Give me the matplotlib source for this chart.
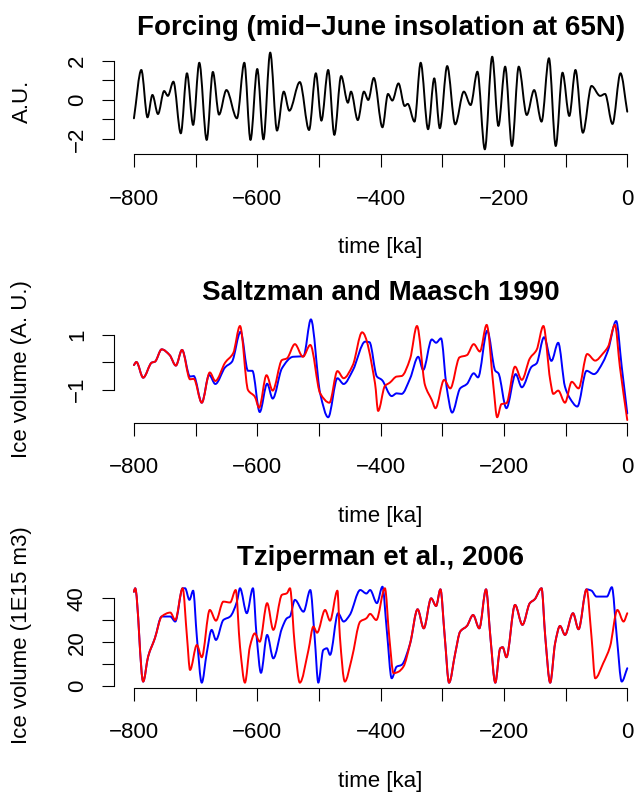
import matplotlib
matplotlib.use("Agg")
import matplotlib.pyplot as plt
import numpy as np
from matplotlib.path import Path
from matplotlib.patches import PathPatch

plt.rcParams['font.family'] = ['Liberation Sans', 'DejaVu Sans']

# ---------------- data ----------------
forcing_t = [-800, -788, -778, -770, -761, -751, -745, -736, -724, -714, -704, -694, -682, -672,
             -662, -650, -633, -621, -611, -600, -590, -579, -568, -557, -548, -531, -516, -505,
             -496, -485, -475, -464, -453, -448, -437, -427, -420, -411, -397, -388, -381, -371,
             -361, -356, -345, -335, -323, -313, -304, -292, -279, -265, -254, -243, -231, -219,
             -209, -198, -187, -176, -163, -151, -139, -127, -116, -105, -94, -84, -72, -58,
             -44, -36, -24, -11, 0]
forcing_v = [-0.94, 1.54, -0.89, 0.26, -0.72, 0.46, 0.21, 0.94, -1.71, 1.37, -1.28, 1.91, -2.05, 1.44,
             -0.75, 0.51, -0.94, 1.91, -2.05, 1.59, -2.02, 2.43, -1.57, 0.43, -0.55, 0.92, -1.54, 1.37,
             -1.06, 1.54, -1.79, 1.23, -0.14, 0.43, -1.03, 0.43, 0.0, 1.13, -1.40, 0.31, -0.03, 0.85,
             -0.31, -0.20, -1.11, 1.91, -1.50, 1.11, -1.45, 1.74, -1.25, 0.43, -0.26, 1.45, -2.53, 2.22,
             -1.33, 1.71, -2.36, 1.71, -0.77, 0.51, -1.11, 2.14, -2.36, 1.40, -0.82, 1.54, -1.68, 0.72,
             0.21, 0.31, -1.23, 1.37, -0.60]

sm_blue_t = [-800, -796, -785, -771, -766, -755, -742, -732, -722, -709, -703, -690, -678, -668,
             -652, -641, -627, -615, -608, -596, -584, -575, -560, -542, -525, -513, -498, -485,
             -470, -460, -445, -425, -418, -406, -398, -382, -374, -366, -352, -339, -331, -317,
             -310, -302, -293, -284, -271, -260, -249, -242, -227, -214, -209, -196, -181, -171,
             -155, -147, -135, -123, -112, -101, -93, -81, -66, -54, -39, -31, -18, -9, 0]
sm_blue_v = [-0.11, 0.00, -0.57, -0.02, 0.01, 0.46, 0.25, -0.13, 0.44, -0.53, -0.51, -1.48, -0.47, -0.80,
             -0.19, 0.01, 1.10, -0.32, -0.32, -1.82, -0.79, -1.33, -0.23, 0.19, 0.21, 1.55, -1.14, -2.01,
             -0.59, -0.80, -0.30, 0.74, 0.72, -0.53, -0.65, -1.24, -1.14, -1.16, -0.59, 0.19, -0.29, 0.82,
             0.70, 0.86, -0.90, -1.84, -0.96, -0.80, -0.41, -0.56, 1.14, -0.32, -0.41, -1.68, -0.44, -0.92,
             -0.17, -0.05, 0.90, 0.04, 0.70, -0.90, -1.32, -1.62, -0.32, -0.44, 0.01, 0.44, 1.49, -0.17, -1.87]

sm_red_t = [-800, -796, -785, -771, -766, -755, -742, -732, -722, -709, -703, -690, -677, -668,
            -652, -639, -628, -615, -604, -597, -585, -575, -560, -552, -539, -526, -514, -498,
            -483, -470, -460, -445, -430, -409, -404, -393, -385, -374, -366, -352, -341, -328,
            -317, -311, -297, -287, -272, -260, -249, -239, -228, -217, -211, -204, -196, -182,
            -171, -158, -147, -136, -125, -120, -112, -101, -90, -79, -65, -52, -39, -31, -20, -12, 0]
sm_red_v = [-0.11, 0.00, -0.57, -0.02, 0.01, 0.46, 0.25, -0.13, 0.44, -0.63, -0.61, -1.48, -0.38, -0.69,
            -0.02, 0.32, 1.31, -1.02, -1.26, -1.66, -0.48, -1.04, 0.07, 0.13, 0.65, 0.19, 0.62, -1.14,
            -1.48, -0.33, -0.59, -0.11, 1.08, -0.78, -1.78, -0.87, -0.75, -0.53, -0.51, 0.13, 1.31, -0.84,
            -1.38, -1.68, -0.65, -0.96, 0.17, 0.25, 0.65, 0.38, 1.35, -0.90, -2.01, -1.53, -1.50, -0.17,
            -0.65, 0.13, 0.44, 1.31, -0.65, -1.16, -1.04, -1.48, -0.72, -0.96, 0.29, 0.05, 0.32, 0.56, 1.35, -0.17, -2.11]

tz_blue_t = [-800, -798, -785, -777, -766, -755, -741, -733, -721, -717, -710, -704, -698, -690,
             -682, -674, -667, -655, -644, -633, -628, -617, -607, -601, -594, -584, -574, -560,
             -552, -547, -539, -525, -514, -507, -501, -493, -487, -482, -469, -460, -450, -433,
             -423, -417, -406, -397, -390, -382, -374, -366, -352, -340, -330, -318, -310, -303,
             -296, -289, -279, -271, -260, -250, -240, -229, -222, -214, -206, -202, -196, -182,
             -170, -158, -150, -139, -133, -125, -117, -109, -101, -88, -79, -66, -58, -50,
             -33, -25, -17, -9, 0]
tz_blue_v = [43.0, 44.6, 2.0, 13.4, 21.8, 31.7, 31.7, 29.4, 44.6, 44.6, 39.3, 43.5, 22.5, 1.5,
             14.9, 25.6, 21.0, 30.1, 31.7, 38.5, 44.6, 33.2, 44.6, 22.5, 6.0, 23.3, 12.6, 26.3,
             30.9, 31.7, 39.3, 33.9, 43.8, 22.5, 1.5, 16.4, 17.2, 14.2, 33.2, 29.4, 32.4, 43.8,
             42.2, 43.8, 37.8, 45.3, 25.6, 3.5, 8.8, 9.6, 19.5, 35.0, 26.3, 40.0, 36.5, 44.1,
             22.5, 1.5, 14.9, 24.8, 27.4, 32.4, 26.3, 44.1, 22.5, 1.5, 17.2, 17.7, 13.1, 37.0,
             27.9, 37.8, 39.6, 44.6, 22.5, 1.5, 19.5, 27.4, 23.3, 33.2, 25.9, 44.1, 43.5, 40.8,
             40.8, 45.1, 22.5, 2.0, 8.1]

tz_red_t = [-800, -798, -785, -777, -766, -755, -741, -733, -721, -714, -709, -698, -690, -677,
            -667, -655, -644, -635, -628, -620, -612, -604, -596, -584, -574, -560, -552, -547,
            -539, -531, -517, -509, -503, -490, -482, -470, -466, -458, -447, -433, -423, -417,
            -407, -393, -386, -379, -371, -363, -352, -340, -330, -318, -310, -303, -296, -289,
            -279, -271, -260, -250, -240, -229, -222, -214, -206, -202, -196, -182, -170, -158,
            -150, -139, -133, -125, -117, -109, -101, -88, -79, -66, -58, -52, -39, -28, -16, -6, 0]
tz_red_v = [43.0, 44.6, 2.0, 13.4, 21.8, 31.7, 33.5, 30.1, 44.6, 22.5, 7.3, 18.7, 13.1, 34.7,
            29.8, 38.5, 38.1, 43.8, 17.9, 1.5, 17.9, 24.0, 20.2, 37.8, 25.6, 41.6, 42.3, 44.6,
            17.9, 1.5, 16.4, 27.1, 24.3, 34.7, 29.8, 43.5, 22.5, 2.0, 12.2, 29.4, 30.9, 32.9,
            30.1, 44.6, 22.5, 5.8, 6.5, 8.8, 19.5, 35.0, 26.3, 40.0, 36.5, 44.1, 22.5, 1.5,
            14.9, 24.8, 27.4, 32.4, 26.3, 44.1, 22.5, 1.5, 17.2, 17.7, 13.1, 37.0, 27.9, 37.8,
            39.6, 44.6, 22.5, 1.5, 19.5, 27.4, 23.3, 33.2, 25.9, 44.1, 22.5, 3.5, 10.4, 17.9, 34.7, 29.4, 33.2]

x_ticks = [-800, -700, -600, -500, -400, -300, -200, -100, 0]
x_labels = ['\u2212800', '', '\u2212600', '', '\u2212400', '', '\u2212200', '', '0']

titles = ['Forcing (mid\u2212June insolation at 65N)', 'Saltzman and Maasch 1990', 'Tziperman et al., 2006']
ylabels = ['A.U.', 'Ice volume (A. U.)', 'Ice volume (1E15 m3)']
xlabel = 'time [ka]'

# ---------------- layout ----------------
W, H = 635, 795
fig = plt.figure(figsize=(W / 100, H / 100), dpi=100)

def ax_px(left, top, right, bottom):
    return fig.add_axes([left / W, 1 - bottom / H, (right - left) / W, (bottom - top) / H])

def smooth_line(ax, t, v, color, lw):
    """Draw the read points joined by a smooth (monotone Hermite/Bezier) path."""
    x = np.asarray(t, float)
    y = np.asarray(v, float)
    h = np.diff(x)
    d = np.diff(y) / h
    n = len(x)
    m = np.zeros(n)
    for k in range(1, n - 1):
        if d[k - 1] * d[k] > 0:
            w1 = 2 * h[k] + h[k - 1]
            w2 = h[k] + 2 * h[k - 1]
            m[k] = (w1 + w2) / (w1 / d[k - 1] + w2 / d[k])
    m[0] = d[0]
    m[-1] = d[-1]
    verts = [(x[0], y[0])]
    codes = [Path.MOVETO]
    for k in range(n - 1):
        verts += [(x[k] + h[k] / 3, y[k] + m[k] * h[k] / 3),
                  (x[k + 1] - h[k] / 3, y[k + 1] - m[k + 1] * h[k] / 3),
                  (x[k + 1], y[k + 1])]
        codes += [Path.CURVE4] * 3
    ax.add_patch(PathPatch(Path(verts, codes), fill=False, edgecolor=color, lw=lw,
                           capstyle='round', joinstyle='round'))

XL, XR = 114.2, 647.0
XLIM = (-832, 32)
AX_FS = 16
TITLE_FS = 20

panels = [
    dict(top=48.7, bottom=153.8, ylim=(-2.76, 2.63), yt=[-2, -1, 0, 1, 2],
         yl=['\u22122', '', '0', '', '2'], yb=(-2, 2)),
    dict(top=315.25, bottom=422.5, ylim=(-2.2, 1.7), yt=[-1, 0, 1],
         yl=['\u22121', '', '1'], yb=(-1, 1)),
    dict(top=583.0, bottom=687.5, ylim=(-0.7, 47.0), yt=[0, 10, 20, 30, 40],
         yl=['0', '', '20', '', '40'], yb=(0, 40)),
]

axes = []
for i, p in enumerate(panels):
    ax = ax_px(XL, p['top'], XR, p['bottom'])
    ax.set_xlim(*XLIM)
    ax.set_ylim(*p['ylim'])
    for s in ['top', 'right']:
        ax.spines[s].set_visible(False)
    ax.spines['left'].set_bounds(*p['yb'])
    ax.spines['bottom'].set_bounds(-800, 0)
    for s in ['left', 'bottom']:
        ax.spines[s].set_linewidth(0.8)
    ax.set_xticks(x_ticks)
    ax.set_xticklabels(x_labels)
    ax.set_yticks(p['yt'])
    ax.set_yticklabels(p['yl'], rotation=90, va='center')
    ax.tick_params(direction='out', length=9, width=0.8, labelsize=AX_FS, colors='black')
    ax.tick_params(axis='x', pad=16)
    ax.tick_params(axis='y', pad=10)
    ax.patch.set_visible(False)
    axes.append(ax)
    offs = 265 * i
    cx = (XL + XR) / 2
    fig.text(cx / W, 1 - (offs + 28) / H, titles[i], ha='center', va='center',
             fontsize=TITLE_FS, fontweight='bold')
    fig.text(22 / W, 1 - ((p['top'] + p['bottom']) / 2) / H, ylabels[i], rotation=90,
             ha='center', va='center', fontsize=AX_FS)
    fig.text(cx / W, 1 - (p['bottom'] + 94) / H, xlabel, ha='center', va='center', fontsize=AX_FS)

LW = 1.4
smooth_line(axes[0], forcing_t, forcing_v, 'black', LW)
smooth_line(axes[1], sm_blue_t, sm_blue_v, 'blue', LW)
smooth_line(axes[1], sm_red_t, sm_red_v, 'red', LW)
smooth_line(axes[2], tz_blue_t, tz_blue_v, 'blue', LW)
smooth_line(axes[2], tz_red_t, tz_red_v, 'red', LW)

fig.savefig('out.png', dpi=100)
